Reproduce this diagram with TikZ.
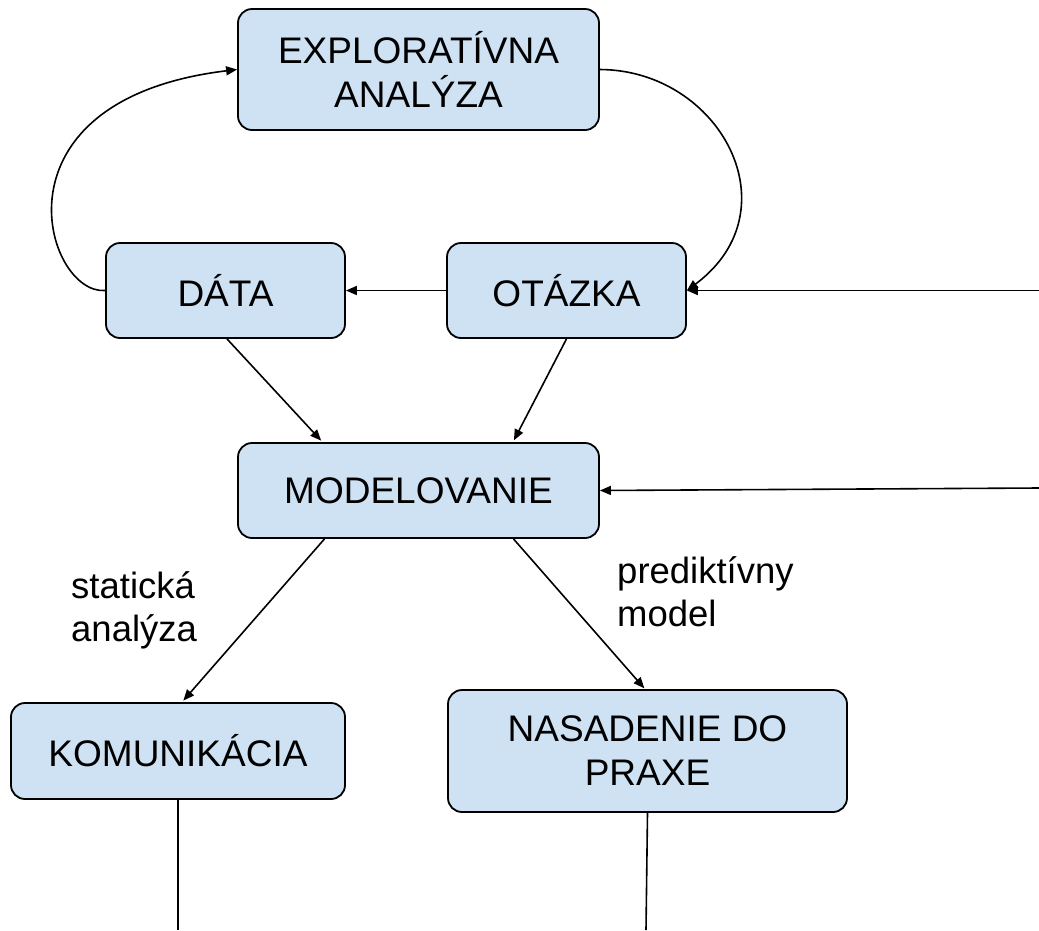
\documentclass[tikz,border=0pt]{standalone}
\usepackage{fontspec}
\setmainfont{Liberation Sans}
\usetikzlibrary{arrows.meta}
\definecolor{boxblue}{HTML}{CFE2F3}

\tikzset{%
  etape/.style={draw, fill=boxblue, rounded corners=14pt, line width=1.8pt, align=center, inner sep=0pt, font=\fontsize{37}{44}\selectfont},
  texto/.style={anchor=north west, align=left, inner sep=0pt, font=\fontsize{36.5}{43}\selectfont},
  line/.style={draw, line width=1.6pt, color=black, -{Triangle[length=11pt,width=9pt]}},
  linepart/.style={draw, line width=1.6pt, color=black},
}

\begin{document}
\begin{tikzpicture}[x=1pt, y=-1pt]
\useasboundingbox (0,0) rectangle (1039,930);
\node[etape, minimum width=361, minimum height=121] (expl) at (418.5,69.5) {EXPLORATÍVNA\\ANALÝZA};
\node[etape, minimum width=239, minimum height=95] (data) at (225.5,290.5) {DÁTA};
\node[etape, minimum width=239, minimum height=95] (otazka) at (566.5,290.5) {OTÁZKA};
\node[etape, minimum width=361, minimum height=95] (mod) at (418.5,490.5) {MODELOVANIE};
\node[etape, minimum width=334, minimum height=96] (kom) at (178,751) {KOMUNIKÁCIA};
\node[etape, minimum width=399, minimum height=122] (nas) at (647.5,751) {NASADENIE DO\\PRAXE};
\node[texto] (stat) at (71,571) {statická\\analýza};
\node[texto] (pred) at (617,556) {prediktívny\\model};
% volne konce ciar
\coordinate (inOt) at (1039,290.5);
\coordinate (inMod) at (1039,488);
\coordinate (outKom) at (178,930);
\coordinate (outNas) at (646,930);
\path[line] (data.west) .. controls (45,295) and (-15,100) .. (expl.west);
\path[line] (expl.east) .. controls (720,70) and (795,210) .. (otazka.east);
\path[line] (otazka.west) -- (data.east);
\path[line] (inOt) -- (otazka.east);
\path[line] (inMod) -- (mod.east);
\path[line, shorten >=2pt] ([xshift=1.5]data.south) -- ([xshift=-96]mod.north);
\path[line, shorten >=2pt] (otazka.south) -- ([xshift=94.5]mod.north);
\path[line, shorten >=2pt] ([xshift=-94]mod.south) -- ([xshift=4]kom.north);
\path[line, shorten >=1pt] ([xshift=95]mod.south) -- ([xshift=-2.5]nas.north);
\path[linepart] (kom.south) -- (outKom);
\path[linepart] (nas.south) -- (outNas);
\end{tikzpicture}
\end{document}
